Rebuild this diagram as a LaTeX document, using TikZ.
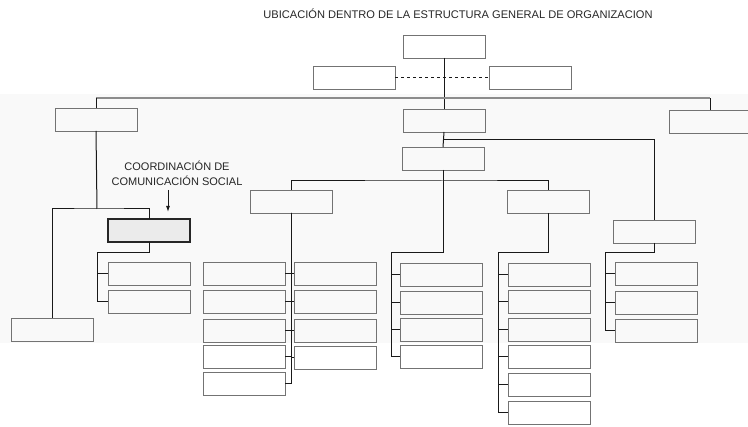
\documentclass[tikz,border=0pt]{standalone}
\usepackage{fontspec}
\setmainfont{Liberation Sans}
\usetikzlibrary{arrows.meta,calc}
\begin{document}
\begin{tikzpicture}[x=1pt,y=-1pt,
  bx/.style={draw=black!55,line width=0.8pt,minimum width=82pt,minimum height=23pt,inner sep=0pt,outer sep=0pt,anchor=north west},
  hl/.style={bx,draw=black!85,line width=1.2pt,fill=black!8},
  cn/.style={draw=black!90,line width=1pt},
  ttl/.style={font=\fontsize{11.1}{13}\selectfont,text=black!85,inner sep=0pt},
  lbl/.style={font=\fontsize{11}{15}\selectfont,text=black!85,align=center,inner sep=0pt}]
\useasboundingbox (0,0) rectangle (748,427);
\fill[black!2.5] (0,94) rectangle (748,343);
\node[ttl] (title) at (458,14) {UBICACIÓN DENTRO DE LA ESTRUCTURA GENERAL DE ORGANIZACION};
% boxes
\node[bx] (top) at (403,35) {};
\node[bx] (advL) at (313,66) {};
\node[bx] (advR) at (489,66) {};
\node[bx] (L1) at (55,108) {};
\node[bx] (C1) at (403,109) {};
\node[bx] (C2) at (402,147) {};
\node[bx] (R1) at (669,110) {};
\node[bx] (B1) at (250,190) {};
\node[bx] (B2) at (507,190) {};
\node[bx] (B3) at (613,220) {};
\node[hl] (Co) at (108,219) {};
\node[bx] (Lc1) at (108,262) {};
\node[bx] (Lc2) at (108,290) {};
\node[bx] (L2) at (11,318) {};
\node[bx] (BL1) at (203,262) {};
\node[bx] (BL2) at (203,290) {};
\node[bx] (BL3) at (203,319) {};
\node[bx] (BL4) at (203,345) {};
\node[bx] (BL5) at (203,372) {};
\node[bx] (BR1) at (294,262) {};
\node[bx] (BR2) at (294,290) {};
\node[bx] (BR3) at (294,319) {};
\node[bx] (BR4) at (294,346) {};
\node[bx] (Cc1) at (400,263) {};
\node[bx] (Cc2) at (400,291) {};
\node[bx] (Cc3) at (400,318) {};
\node[bx] (Cc4) at (400,345) {};
\node[bx] (D1) at (508,263) {};
\node[bx] (D2) at (508,290) {};
\node[bx] (D3) at (508,318) {};
\node[bx] (D4) at (508,345) {};
\node[bx] (D5) at (508,373) {};
\node[bx] (D6) at (508,401) {};
\node[bx] (E1) at (615,262) {};
\node[bx] (E2) at (615,291) {};
\node[bx] (E3) at (615,319) {};
% label
\node[lbl] (lab) at (177,173) {COORDINACIÓN DE\\COMUNICACIÓN SOCIAL};
\coordinate (ae) at (168,212);
\draw[cn,-{Latex[length=6pt,width=4pt]}] (168,190) -- (ae);
% connectors
\draw[cn,dashed] (advL.east) -- (advR.west);
\draw[cn] (top.south) -- (C1.north);
\coordinate (hb) at (444,98);
\draw[black!45,line width=1.3pt] (L1.north |- hb) -- (R1.north |- hb);
\draw[cn] (L1.north) -- (L1.north |- hb);
\draw[cn] (R1.north) -- (R1.north |- hb);
\draw[cn] (C1.south) -- (C2.north);
\coordinate (cj) at ($(C1.south)+(0,8)$);
\draw[cn] (cj) -| (B3.north);
\coordinate (bus) at ($(C2.south)+(0,11)$);
\draw[cn] (C2.south) -- (bus);
\draw[cn] (B1.north) |- (bus) -| (B2.north);
% center column
\coordinate (cv) at (391,253);
\draw[cn] (C2.south) |- (cv) |- (Cc4.west);
\foreach \n in {Cc1,Cc2,Cc3} \draw[cn] (cv) |- (\n.west);
% B1 column
\draw[cn] (B1.south) |- (BL5.east);
\foreach \n in {BL1,BL2,BL3,BL4} \draw[cn] (B1.south) |- (\n.east);
\foreach \n in {BR1,BR2,BR3,BR4} \draw[cn] (B1.south) |- (\n.west);
% B2 column
\coordinate (dv) at (498,253);
\draw[cn] (B2.south) |- (dv) |- (D6.west);
\foreach \n in {D1,D2,D3,D4,D5} \draw[cn] (dv) |- (\n.west);
% B3 column
\coordinate (ev) at (605,253);
\draw[cn] (B3.south) |- (ev) |- (E3.west);
\foreach \n in {E1,E2} \draw[cn] (ev) |- (\n.west);
% left branch
\coordinate (lj) at (97,209);
\draw[cn] (L1.south) -- (lj);
\draw[cn] (L2.north) |- (lj) -| (Co.north);
\coordinate (lv) at (97,253);
\draw[cn] (Co.south) |- (lv) |- (Lc2.west);
\draw[cn] (lv) |- (Lc1.west);
\end{tikzpicture}
\end{document}
